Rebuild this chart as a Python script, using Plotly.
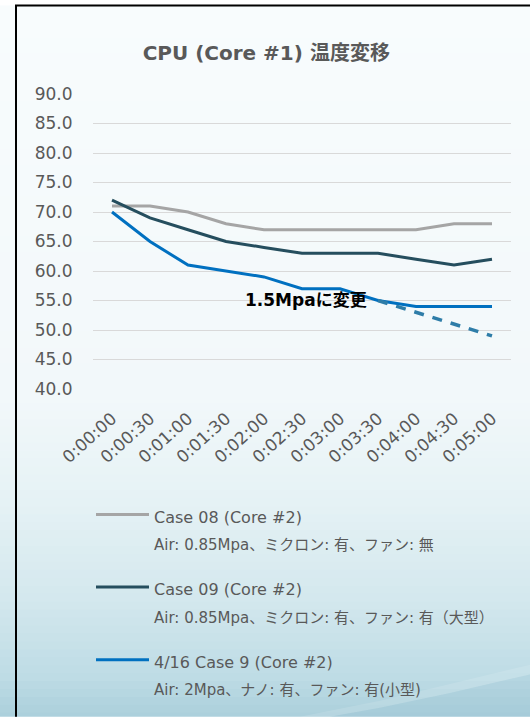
import plotly.graph_objects as go

# ---- data ----
times = ["0:00:00", "0:00:30", "0:01:00", "0:01:30", "0:02:00", "0:02:30",
         "0:03:00", "0:03:30", "0:04:00", "0:04:30", "0:05:00"]
case08 = [71, 71, 70, 68, 67, 67, 67, 67, 67, 68, 68]
case09 = [72, 69, 67, 65, 64, 63, 63, 63, 62, 61, 62]
case9_0416 = [70, 65, 61, 60, 59, 57, 57, 55, 54, 54, 54]
projected_15mpa = [None, None, None, None, None, None, None, 55, 53, 51, 49]
y_ticks = [40, 45, 50, 55, 60, 65, 70, 75, 80, 85, 90]

name08 = "<span style='font-size:16px'>Case 08 (Core #2)</span><br><span style='font-size:15px'>Air: 0.85Mpa、ミクロン: 有、ファン: 無</span>"
name09 = "<span style='font-size:16px'>Case 09 (Core #2)</span><br><span style='font-size:15px'>Air: 0.85Mpa、ミクロン: 有、ファン: 有（大型）</span>"
name0416 = "<span style='font-size:16px'>4/16 Case 9 (Core #2)</span><br><span style='font-size:15px'>Air: 2Mpa、ナノ: 有、ファン: 有(小型)</span>"

FONT = "DejaVu Sans, Noto Sans CJK JP, sans-serif"
W, H = 530, 719
ML, MR, MT, MB = 93, 19, 94, 328
PW, PH = W - ML - MR, H - MT - MB

def px_x(x):
    return (x - ML) / PW

def px_y(y):
    return (H - MB - y) / PH

fig = go.Figure()
fig.add_trace(go.Scatter(x=times, y=case08, mode="lines", name=name08,
                         line=dict(color="#A5A5A5", width=3), legendgroup="a"))
fig.add_trace(go.Scatter(x=times, y=case09, mode="lines", name=name09,
                         line=dict(color="#254E5E", width=3), legendgroup="b"))
fig.add_trace(go.Scatter(x=times, y=case9_0416, mode="lines", name=name0416,
                         line=dict(color="#0070C0", width=3), legendgroup="c"))
fig.add_trace(go.Scatter(x=times, y=projected_15mpa, mode="lines", showlegend=False,
                         line=dict(color="#2E7DA8", width=3.5, dash="10px,9px")))

# background gradient bands (decoration)
stops = [(0, (248, 252, 253)), (400, (242, 248, 250)), (500, (230, 242, 245)),
         (600, (212, 232, 238)), (680, (190, 220, 229)), (719, (172, 208, 220))]

def col_at(y):
    for (y0, c0), (y1, c1) in zip(stops[:-1], stops[1:]):
        if y0 <= y <= y1:
            t = (y - y0) / (y1 - y0)
            return "rgb(%d,%d,%d)" % tuple(round(a + (b - a) * t) for a, b in zip(c0, c1))
    return "rgb(%d,%d,%d)" % stops[-1][1]

shapes = []
step = 8
for y in range(5, H, step):
    shapes.append(dict(type="rect", xref="paper", yref="paper", layer="below",
                       x0=px_x(-2), x1=px_x(W + 2), y0=px_y(y), y1=px_y(min(y + step + 1, H + 2)),
                       fillcolor=col_at(y + step / 2), line=dict(width=0)))

# subtle wave in the lower right corner
def pth(pts):
    return "M" + " L".join("%.4f,%.4f" % (px_x(a), px_y(b)) for a, b in pts) + " Z"

shapes.append(dict(type="path", xref="paper", yref="paper", layer="below",
                   path=pth([(300, 721), (380, 705), (450, 688), (532, 668), (532, 678),
                             (450, 697), (380, 712), (330, 721)]),
                   fillcolor="rgba(255,255,255,0.12)", line=dict(width=0)))
shapes.append(dict(type="path", xref="paper", yref="paper", layer="below",
                   path=pth([(330, 721), (380, 712), (450, 697), (532, 678), (532, 721)]),
                   fillcolor="rgba(120,175,195,0.12)", line=dict(width=0)))

# frame lines
shapes.append(dict(type="line", xref="paper", yref="paper", x0=px_x(16), x1=px_x(16),
                   y0=px_y(5), y1=px_y(H + 2), line=dict(color="#000000", width=2)))
shapes.append(dict(type="line", xref="paper", yref="paper", x0=px_x(15), x1=px_x(W + 2),
                   y0=px_y(5), y1=px_y(5), line=dict(color="#000000", width=2)))

fig.update_layout(
    width=W, height=H,
    margin=dict(l=ML, r=MR, t=MT, b=MB),
    paper_bgcolor="#FFFFFF",
    plot_bgcolor="rgba(0,0,0,0)",
    font=dict(family=FONT, color="#595959"),
    title=dict(text="<b>CPU (Core #1) 温度変移</b>", x=px_x(303), xanchor="center",
               y=1 - 53 / H, yanchor="middle", font=dict(size=20, color="#595959")),
    shapes=shapes,
    xaxis=dict(type="category", range=[-0.5, 10.5], tickangle=-42, showgrid=False,
               showline=False, ticks="outside", ticklen=12, tickcolor="rgba(0,0,0,0)",
               tickfont=dict(size=17, color="#595959"), automargin=False),
    yaxis=dict(range=[40, 90], tickvals=y_ticks, tickformat=".1f", showgrid=True,
               gridcolor="#D9D9D9", gridwidth=1, zeroline=False, showline=False,
               ticks="outside", ticklen=16, tickcolor="rgba(0,0,0,0)",
               tickfont=dict(size=17, color="#595959"), automargin=False),
    showlegend=True,
    legend=dict(x=px_x(91), y=px_y(497), xanchor="left", yanchor="top",
                bgcolor="rgba(0,0,0,0)", font=dict(size=21, family=FONT, color="#595959"),
                itemwidth=53, valign="top", tracegroupgap=15, itemclick=False),
    annotations=[dict(text="<b>1.5Mpaに変更</b>", x=px_x(306), y=px_y(313), xref="paper",
                      yref="paper", showarrow=False, font=dict(size=17, color="#000000", family=FONT))],
)

fig.write_html("out.html")
